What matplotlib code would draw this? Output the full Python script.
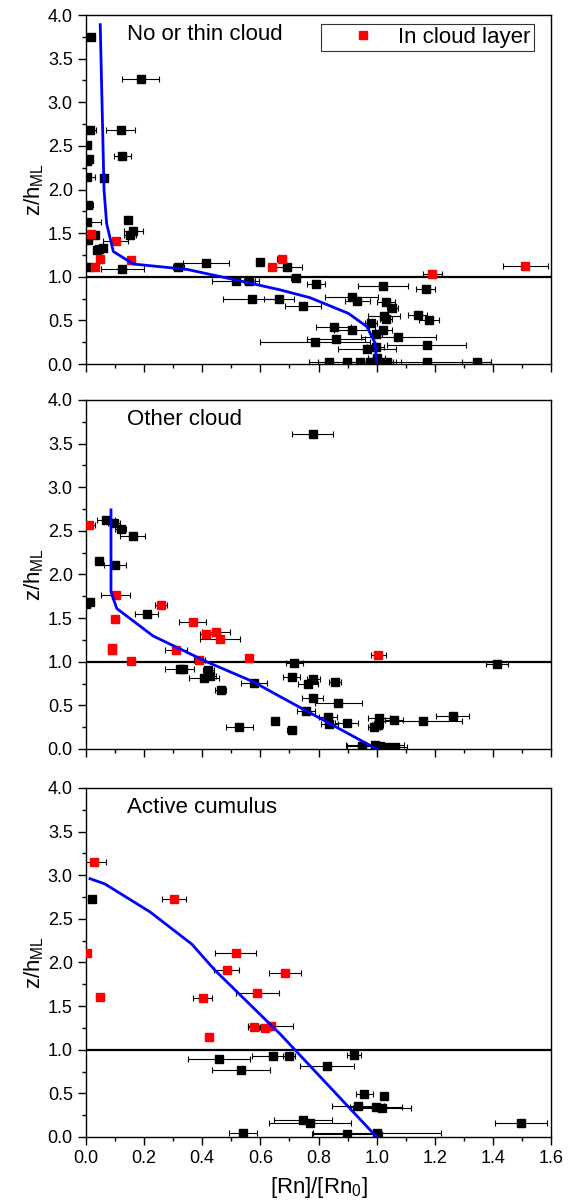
import numpy as np
import matplotlib
matplotlib.use("Agg")
import matplotlib.pyplot as plt
from matplotlib.ticker import MultipleLocator, FormatStrFormatter

plt.rcParams["font.family"] = ["Liberation Sans", "DejaVu Sans"]
plt.rcParams["mathtext.fontset"] = "custom"
plt.rcParams["mathtext.rm"] = "Liberation Sans"

# -----------------------------
# Data: (x, y, xerr) per panel
# -----------------------------
panel_titles = ["No or thin cloud", "Other cloud", "Active cumulus"]

thin_black_x = [0.016, 0.188, 0.014, 0.119, 0.002, 0.125, 0.011, 0.005, 0.005, 0.062,
                0.008, 0.002, 0.146, 0.031, 0.008, 0.163, 0.151, 0.046, 0.057, 0.037,
                0.010, 0.125, 0.318, 0.412, 0.599, 0.693, 0.722, 0.515, 0.562, 0.570,
                0.664, 0.791, 1.021, 1.169, 0.914, 0.934, 0.746, 1.032, 1.054, 1.141,
                1.180, 1.025, 1.032, 0.980, 0.853, 0.914, 1.023, 0.998, 1.075, 0.859,
                0.788, 1.172, 0.997, 0.966, 1.000, 0.837, 0.897, 0.943, 0.977, 1.006,
                1.035, 1.172, 1.344]
thin_black_y = [3.75, 3.27, 2.68, 2.68, 2.51, 2.38, 2.35, 2.33, 2.14, 2.13,
                1.82, 1.63, 1.65, 1.48, 1.42, 1.52, 1.48, 1.32, 1.33, 1.31,
                1.115, 1.09, 1.115, 1.16, 1.17, 1.11, 0.99, 0.95, 0.95, 0.745,
                0.75, 0.92, 0.90, 0.855, 0.77, 0.725, 0.66, 0.715, 0.64, 0.56,
                0.50, 0.55, 0.52, 0.47, 0.43, 0.39, 0.39, 0.34, 0.31, 0.29,
                0.25, 0.22, 0.20, 0.17, 0.065, 0.02, 0.02, 0.02, 0.02, 0.02,
                0.02, 0.02, 0.02]
thin_black_err = [0.0, 0.064, 0.02, 0.05, 0.012, 0.03, 0.01, 0.0, 0.025, 0.0,
                  0.015, 0.05, 0.0, 0.01, 0.0, 0.033, 0.02, 0.02, 0.0, 0.0,
                  0.0, 0.075, 0.02, 0.079, 0.0, 0.05, 0.015, 0.08, 0.02, 0.1,
                  0.05, 0.03, 0.086, 0.032, 0.09, 0.042, 0.062, 0.03, 0.02, 0.032,
                  0.034, 0.056, 0.02, 0.02, 0.06, 0.06, 0.03, 0.02, 0.13, 0.1,
                  0.19, 0.137, 0.03, 0.10, 0.03, 0.07, 0.1, 0.05, 0.08, 0.06,
                  0.05, 0.22, 0.05]
thin_red_x = [0.017, 0.102, 0.048, 0.031, 0.154, 0.640, 0.673, 1.192, 1.511]
thin_red_y = [1.49, 1.41, 1.20, 1.115, 1.19, 1.11, 1.20, 1.03, 1.12]
thin_red_err = [0.0, 0.043, 0.01, 0.01, 0.01, 0.0, 0.015, 0.033, 0.077]
thin_line_x = [1.0, 0.995, 0.966, 0.903, 0.771, 0.668, 0.507, 0.347, 0.163, 0.094,
               0.071, 0.062, 0.049]
thin_line_y = [0.0, 0.24, 0.43, 0.58, 0.76, 0.85, 0.97, 1.085, 1.146, 1.29,
               1.61, 2.0, 3.89]

other_black_x = [0.780, 0.069, 0.097, 0.119, 0.161, 0.045, 0.100, 0.014, 0.000, 0.209,
                 0.323, 0.335, 0.421, 0.406, 0.427, 0.463, 0.578, 0.528, 0.650, 0.708,
                 0.717, 1.415, 0.708, 0.782, 0.765, 0.857, 0.780, 0.868, 0.757, 0.832,
                 0.837, 0.897, 1.008, 1.003, 0.991, 1.060, 1.159, 1.262, 0.949, 0.995,
                 1.012, 1.035, 1.063]
other_black_y = [3.61, 2.62, 2.59, 2.52, 2.44, 2.15, 2.11, 1.69, 1.66, 1.55,
                 0.914, 0.914, 0.90, 0.81, 0.84, 0.68, 0.76, 0.255, 0.323, 0.217,
                 0.99, 0.97, 0.83, 0.80, 0.75, 0.77, 0.58, 0.53, 0.44, 0.37,
                 0.29, 0.30, 0.36, 0.27, 0.255, 0.33, 0.32, 0.377, 0.03, 0.04,
                 0.03, 0.02, 0.02]
other_black_err = [0.07, 0.03, 0.02, 0.02, 0.043, 0.0, 0.038, 0.0, 0.015, 0.04,
                   0.05, 0.01, 0.02, 0.05, 0.02, 0.02, 0.045, 0.046, 0.0, 0.015,
                   0.03, 0.037, 0.03, 0.023, 0.034, 0.02, 0.037, 0.08, 0.03, 0.03,
                   0.03, 0.04, 0.037, 0.02, 0.02, 0.03, 0.136, 0.057, 0.05, 0.1,
                   0.06, 0.04, 0.04]
other_red_x = [0.011, 0.103, 0.258, 0.100, 0.367, 0.412, 0.446, 0.461, 0.088, 0.090,
               0.310, 0.154, 0.390, 0.562, 1.006]
other_red_y = [2.57, 1.76, 1.65, 1.49, 1.455, 1.32, 1.34, 1.257, 1.16, 1.13,
               1.13, 1.005, 1.017, 1.048, 1.08]
other_red_err = [0.02, 0.05, 0.02, 0.015, 0.047, 0.02, 0.048, 0.07, 0.01, 0.01,
                 0.037, 0.0, 0.02, 0.0, 0.025]
other_line_x = [1.0, 0.668, 0.576, 0.415, 0.231, 0.106, 0.086, 0.086]
other_line_y = [0.0, 0.60, 0.77, 1.0, 1.295, 1.61, 1.80, 2.74]

cu_black_x = [0.022, 0.458, 0.642, 0.699, 0.532, 0.541, 0.922, 0.830, 0.958, 1.025,
              0.935, 0.998, 1.017, 0.748, 0.771, 1.496, 0.897, 1.000]
cu_black_y = [2.73, 0.89, 0.93, 0.93, 0.77, 0.04, 0.94, 0.815, 0.49, 0.47,
              0.36, 0.347, 0.33, 0.19, 0.157, 0.157, 0.03, 0.05]
cu_black_err = [0.0, 0.107, 0.07, 0.02, 0.1, 0.048, 0.023, 0.092, 0.03, 0.0,
                0.09, 0.09, 0.1, 0.1, 0.14, 0.09, 0.12, 0.22]
cu_red_x = [0.028, 0.303, 0.002, 0.515, 0.484, 0.685, 0.048, 0.401, 0.590, 0.578,
            0.616, 0.636, 0.424]
cu_red_y = [3.15, 2.73, 2.11, 2.11, 1.91, 1.878, 1.60, 1.597, 1.654, 1.26,
            1.25, 1.27, 1.15]
cu_red_err = [0.04, 0.042, 0.0, 0.07, 0.043, 0.054, 0.015, 0.033, 0.075, 0.02,
              0.02, 0.077, 0.01]
cu_line_x = [1.0, 0.668, 0.444, 0.364, 0.22, 0.065, 0.014]
cu_line_y = [0.0, 1.18, 1.91, 2.21, 2.58, 2.90, 2.96]

panels = [
    (thin_black_x, thin_black_y, thin_black_err, thin_red_x, thin_red_y, thin_red_err,
     thin_line_x, thin_line_y),
    (other_black_x, other_black_y, other_black_err, other_red_x, other_red_y, other_red_err,
     other_line_x, other_line_y),
    (cu_black_x, cu_black_y, cu_black_err, cu_red_x, cu_red_y, cu_red_err,
     cu_line_x, cu_line_y),
]

# -----------------------------
# Figure layout (pixel-matched)
# -----------------------------
fig = plt.figure(figsize=(5.71, 12.03), dpi=100)
left, width = 0.1506, 0.8144
bottoms = [0.6974, 0.3774, 0.0549]
height = 0.2901

err_kw = dict(ecolor="black", elinewidth=0.8, capsize=2.3, capthick=0.8)

for i, (bx, by, be, rx, ry, re, lx, ly) in enumerate(panels):
    ax = fig.add_axes([left, bottoms[i], width, height])

    ax.errorbar(bx, by, xerr=be, fmt="s", color="black", ms=6, mec="black",
                zorder=3, **err_kw)
    red = ax.errorbar(rx, ry, xerr=re, fmt="s", color="#ff0000", ms=6,
                      mec="#ff0000", zorder=4, **err_kw)
    ax.plot(lx, ly, color="#0000ff", lw=2.0, zorder=5)
    ax.axhline(1.0, color="black", lw=1.6, zorder=2)

    ax.set_xlim(0, 1.6)
    ax.set_ylim(0, 4.0)
    ax.xaxis.set_major_locator(MultipleLocator(0.2))
    ax.xaxis.set_minor_locator(MultipleLocator(0.1))
    ax.yaxis.set_major_locator(MultipleLocator(0.5))
    ax.yaxis.set_minor_locator(MultipleLocator(0.25))
    ax.xaxis.set_major_formatter(FormatStrFormatter("%.1f"))
    ax.yaxis.set_major_formatter(FormatStrFormatter("%.1f"))
    ax.tick_params(which="major", direction="out", length=5.5, width=1,
                   labelsize=13, pad=4, top=False, right=False)
    ax.tick_params(which="minor", direction="out", length=3, width=1,
                   top=False, right=False)
    for sp in ax.spines.values():
        sp.set_linewidth(1.0)

    ax.set_ylabel(r"z/h$_\mathregular{ML}$", fontsize=16, labelpad=1)
    ax.text(0.0875, 0.943, panel_titles[i], transform=ax.transAxes,
            fontsize=16, ha="left", va="center")

    if i < 2:
        ax.tick_params(axis="x", labelbottom=False)
    else:
        ax.set_xlabel(r"[Rn]/[Rn$_\mathregular{0}$]", fontsize=16, labelpad=6)

    if i == 0:
        leg = ax.legend([red[0]], ["In cloud layer"], loc="upper left",
                        bbox_to_anchor=(0.505, 0.975), fontsize=16, frameon=True,
                        fancybox=False, edgecolor="black", handlelength=3.5,
                        handletextpad=-0.18, borderpad=0.15, borderaxespad=0,
                        markerscale=0.85)
        leg.get_frame().set_linewidth(0.8)

fig.savefig("out.png", dpi=100)
